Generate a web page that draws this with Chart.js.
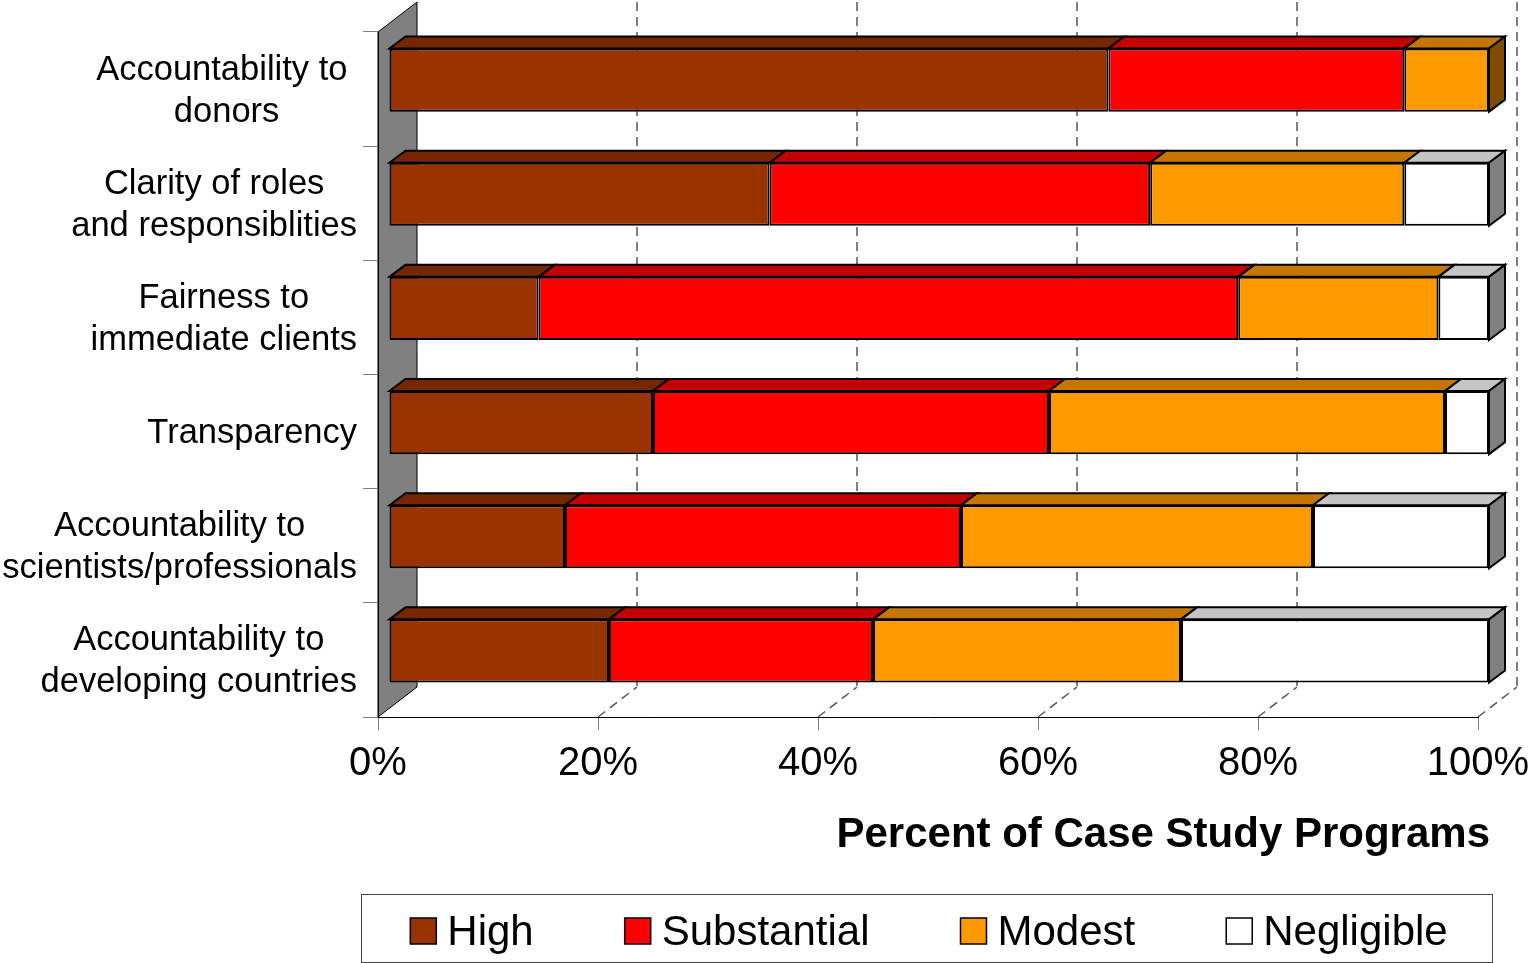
<!DOCTYPE html>
<html>
<head>
<meta charset="utf-8">
<title>Percent of Case Study Programs</title>
<script src="https://cdn.jsdelivr.net/npm/chart.js@4/dist/chart.umd.min.js"></script>
<style>
  html, body { margin: 0; padding: 0; background: #fff; }
</style>
</head>
<body>
<canvas id="mycanvas" width="1537" height="963"></canvas>
<script>
// values, percent of programs per row
var categories = [
  ['Accountability to ', 'donors'],
  ['Clarity of roles', 'and responsiblities'],
  ['Fairness to', 'immediate clients'],
  ['Transparency'],
  ['Accountability to', 'scientists/professionals'],
  ['Accountability to', 'developing countries']
];
var high        = [65.4, 34.6, 13.6, 24, 16, 20];
var substantial = [26.9, 34.6, 63.6, 36, 36, 24];
var modest      = [7.7, 23.1, 18.2, 36, 32, 28];
var negligible  = [0, 7.7, 4.6, 4, 16, 28];
var seriesNames = ['High', 'Substantial', 'Modest', 'Negligible'];
var xTicks = [0, 20, 40, 60, 80, 100];
var axisTitle = 'Percent of Case Study Programs';

var FONT = "'Liberation Sans', Arial, sans-serif";
var colors = ['#993300', '#FF0000', '#FF9900', '#FFFFFF'];

// fake 3d offsets
var wallDepth = {x: 39, y: -30};
var barShift = {x: 11, y: -9};
var barDepth = {x: 16, y: -12};

function shade(hex, f) {
  var n = parseInt(hex.slice(1), 16);
  var r = Math.round(((n >> 16) & 255) * f);
  var g = Math.round(((n >> 8) & 255) * f);
  var b = Math.round((n & 255) * f);
  return 'rgb(' + r + ',' + g + ',' + b + ')';
}

function poly(ctx, pts, fill, stroke, lw) {
  ctx.beginPath();
  ctx.moveTo(pts[0][0], pts[0][1]);
  for (var i = 1; i < pts.length; i++) ctx.lineTo(pts[i][0], pts[i][1]);
  ctx.closePath();
  if (fill) { ctx.fillStyle = fill; ctx.fill(); }
  if (stroke) { ctx.strokeStyle = stroke; ctx.lineWidth = lw; ctx.stroke(); }
}

var threeD = {
  id: 'threeD',
  beforeDraw: function(chart) {
    var ctx = chart.ctx, a = chart.chartArea, x = chart.scales.x;
    ctx.save();
    ctx.lineJoin = 'miter';
    // side wall
    poly(ctx, [
      [a.left, a.top],
      [a.left + wallDepth.x, a.top + wallDepth.y],
      [a.left + wallDepth.x, a.bottom + wallDepth.y],
      [a.left, a.bottom]
    ], '#808080', '#000', 1);
    // back grid + floor lines
    ctx.strokeStyle = '#555';
    ctx.lineWidth = 1.5;
    ctx.setLineDash([9, 6]);
    x.ticks.forEach(function(t) {
      if (t.value === 0) return;
      var px = x.getPixelForValue(t.value);
      ctx.beginPath();
      ctx.moveTo(px + wallDepth.x, a.top + wallDepth.y);
      ctx.lineTo(px + wallDepth.x, a.bottom + wallDepth.y);
      ctx.moveTo(px, a.bottom);
      ctx.lineTo(px + wallDepth.x, a.bottom + wallDepth.y);
      ctx.stroke();
    });
    ctx.restore();
  },
  beforeDatasetsDraw: function(chart) {
    chart.ctx.save();
    chart.ctx.translate(barShift.x, barShift.y);
  },
  afterDatasetsDraw: function(chart) {
    var ctx = chart.ctx;
    ctx.restore();
    ctx.save();
    ctx.lineJoin = 'miter';
    var ds = chart.data.datasets;
    chart.data.labels.forEach(function(lbl, i) {
      var last = -1;
      ds.forEach(function(d, k) { if (d.data[i] > 0) last = k; });
      ds.forEach(function(d, k) {
        if (!(d.data[i] > 0)) return;
        var el = chart.getDatasetMeta(k).data[i];
        var l = Math.min(el.base, el.x) + barShift.x;
        var r = Math.max(el.base, el.x) + barShift.x;
        var t = el.y - el.height / 2 + barShift.y;
        var b = el.y + el.height / 2 + barShift.y;
        poly(ctx, [[l, t], [r, t], [r + barDepth.x, t + barDepth.y], [l + barDepth.x, t + barDepth.y]],
          shade(d.backgroundColor, 0.77), '#000', 2);
        if (k === last) {
          poly(ctx, [[r, t], [r + barDepth.x, t + barDepth.y], [r + barDepth.x, b + barDepth.y], [r, b]],
            shade(d.backgroundColor, 0.5), '#000', 2);
        }
      });
    });
    ctx.restore();
  },
  afterDraw: function(chart) {
    var ctx = chart.ctx, y = chart.scales.y;
    ctx.save();
    ctx.fillStyle = '#000';

    // category labels, widest line right-aligned, others centred on it
    ctx.font = '34.5px ' + FONT;
    ctx.textAlign = 'center';
    ctx.textBaseline = 'middle';
    chart.data.labels.forEach(function(lines, i) {
      var cy = y.getPixelForValue(i) + 2;
      var widest = 0;
      lines.forEach(function(s) { widest = Math.max(widest, ctx.measureText(s).width); });
      var cx = 357 - widest / 2;
      lines.forEach(function(s, j) {
        ctx.fillText(s, cx, cy + (j - (lines.length - 1) / 2) * 42);
      });
    });

    // axis title
    ctx.font = 'bold 42px ' + FONT;
    ctx.textAlign = 'right';
    ctx.textBaseline = 'alphabetic';
    ctx.fillText(axisTitle, 1490, 847);

    // legend
    ctx.strokeStyle = '#444';
    ctx.lineWidth = 1;
    ctx.strokeRect(361.5, 894.5, 1131, 68);
    ctx.font = '42px ' + FONT;
    ctx.textAlign = 'left';
    var box = 26, gap = 11, itemGap = 91;
    var ds = chart.data.datasets;
    var total = 0;
    ds.forEach(function(d, k) {
      total += box + gap + ctx.measureText(d.label).width + (k < ds.length - 1 ? itemGap : 0);
    });
    var lx = 929 - total / 2;
    ds.forEach(function(d) {
      ctx.fillStyle = d.backgroundColor;
      ctx.fillRect(lx, 918, box, box);
      ctx.strokeStyle = '#000';
      ctx.lineWidth = 1.5;
      ctx.strokeRect(lx, 918, box, box);
      ctx.fillStyle = '#000';
      ctx.fillText(d.label, lx + box + gap, 945);
      lx += box + gap + ctx.measureText(d.label).width + itemGap;
    });
    ctx.restore();
  }
};

var seriesData = [high, substantial, modest, negligible];

new Chart(document.getElementById('mycanvas'), {
  type: 'bar',
  data: {
    labels: categories,
    datasets: seriesNames.map(function(name, k) {
      return {
        label: name,
        data: seriesData[k],
        backgroundColor: colors[k],
        borderColor: '#000',
        borderWidth: 2,
        borderSkipped: false,
        categoryPercentage: 1,
        barPercentage: 0.553,
        clip: false
      };
    })
  },
  options: {
    indexAxis: 'y',
    responsive: false,
    animation: false,
    devicePixelRatio: 1,
    layout: { padding: { left: 363, top: 32, right: 59, bottom: 175 } },
    plugins: {
      legend: { display: false },
      tooltip: { enabled: false },
      title: { display: false }
    },
    scales: {
      x: {
        stacked: true,
        min: 0,
        max: 100,
        afterBuildTicks: function(scale) {
          scale.ticks = xTicks.map(function(v) { return { value: v }; });
        },
        afterFit: function(scale) {
          scale.height = 71;
          scale.paddingLeft = 0;
          scale.paddingRight = 0;
        },
        ticks: {
          callback: function(v) { return v + '%'; },
          maxRotation: 0,
          padding: 10,
          color: '#000',
          font: { family: FONT, size: 40 }
        },
        grid: {
          drawOnChartArea: false,
          drawTicks: true,
          tickLength: 13,
          tickColor: '#808080'
        },
        border: { display: true, color: '#000', width: 1 }
      },
      y: {
        stacked: true,
        afterFit: function(scale) { scale.width = 15; },
        ticks: { display: false },
        grid: {
          drawOnChartArea: false,
          drawTicks: true,
          tickLength: 15,
          tickColor: '#808080'
        },
        border: { display: true, color: '#000', width: 1 }
      }
    }
  },
  plugins: [threeD]
});
</script>
</body>
</html>
